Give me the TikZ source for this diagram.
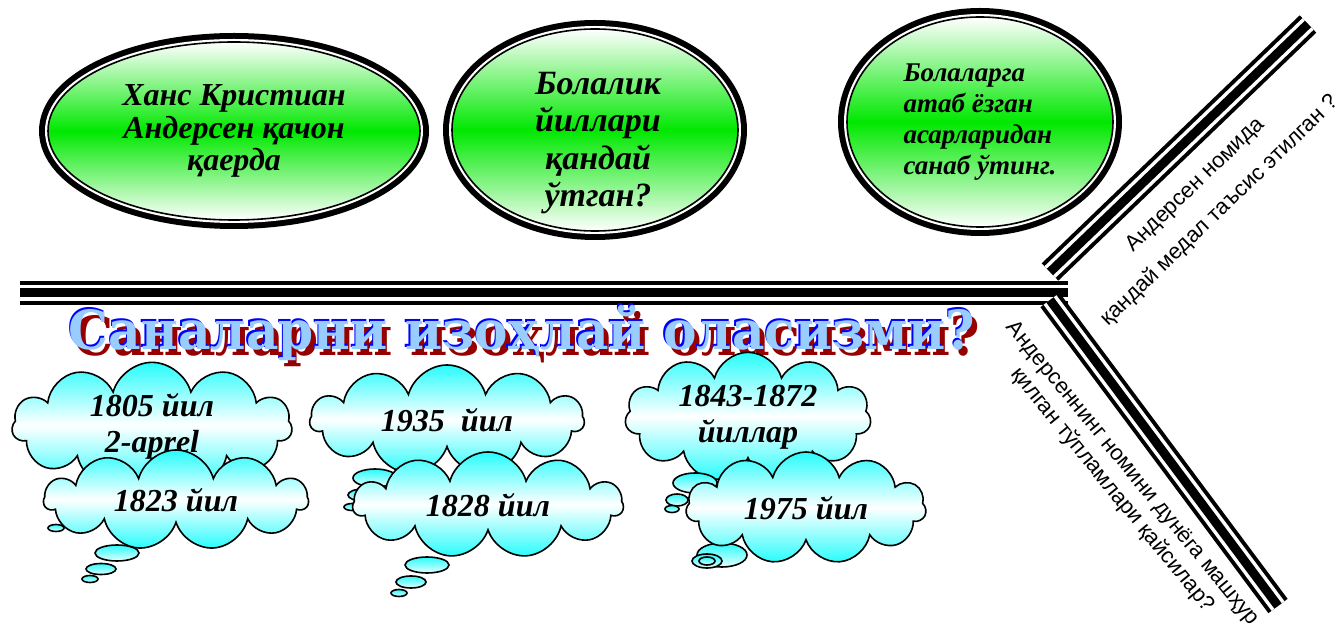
\documentclass[tikz,border=0pt]{standalone}
\usepackage{fontspec}
\setmainfont{Liberation Serif}
\setsansfont{Liberation Sans}
\newfontfamily\titlefont{DejaVu Serif}
\usetikzlibrary{shapes.geometric,shapes.symbols}

\definecolor{verde}{RGB}{0,232,0}
\definecolor{cian}{RGB}{40,252,252}
\definecolor{celeste}{RGB}{153,204,255}
\definecolor{rojo}{RGB}{150,0,0}

\tikzset{
  pregunta/.style={ellipse, draw=black, line width=0.8pt, inner sep=0pt,
    preaction={draw=black, line width=9pt},
    preaction={draw=white, line width=3pt},
    top color=white, bottom color=white, middle color=verde, align=center},
  nube/.style={cloud, cloud puffs=11, cloud ignores aspect, draw=black,
    line width=0.8pt, inner sep=0pt, top color=cian, bottom color=cian,
    middle color=white, align=center,
    font=\bfseries\itshape\fontsize{16}{18}\selectfont},
  burbuja/.style={draw=black, line width=0.8pt, top color=cian, bottom color=cian!12},
  raya/.style={line width=12pt, postaction={draw=white, line width=8pt},
    postaction={draw=black, line width=4.5pt}},
  rama/.style={font=\sffamily\fontsize{11}{13}\selectfont, align=center}
}

\begin{document}
\begin{tikzpicture}[x=0.5pt,y=-0.5pt]
    \useasboundingbox (0,0) rectangle (1340,630);
    % Preguntas
    \node[pregunta, minimum width=186pt, minimum height=89pt,
      font=\bfseries\itshape\fontsize{16}{16.2}\selectfont] (cuando) at (234,131)
      {Ханс Кристиан\\Андерсен қачон\\қаерда};
    \node[pregunta, minimum width=143pt, minimum height=101pt] (ninez) at (595,130) {};
    \node[align=center, font=\bfseries\itshape\fontsize{17}{18.7}\selectfont]
      (ninez-texto) at (598,143) {Болалик\\йиллари\\қандай\\ўтган?};
    \node[pregunta, minimum width=133pt, minimum height=105pt, align=left,
      font=\bfseries\itshape\fontsize{13.5}{15.5}\selectfont] (obras) at (980,122)
      {Болаларга\\атаб ёзган\\асарларидан\\санаб ўтинг.};
    % Espina
    \coordinate (cola) at (20,293);
    \coordinate (cabeza) at (1068,293);
    \coordinate (nudoA) at (1050,272);
    \coordinate (puntaA) at (1308,24);
    \coordinate (nudoB) at (1050,300);
    \coordinate (puntaB) at (1278,606);
    \draw[raya] (cola) -- (cabeza);
    \draw[raya] (nudoA) -- (puntaA);
    \draw[raya] (nudoB) -- (puntaB);
    \node[rama, rotate=44] (medal) at (1208,198)
      {Андерсен номида\\[5pt]қандай медал таъсис этилган ?};
    \node[rama, rotate=-50.7] (tuplam) at (1122,482)
      {Андерсеннинг номини дунёга машҳур\\қилган тўпламлари қайсилар?};
    % Titulo
    \foreach \dx/\dy/\col/\nom in {2.5/3/rojo/sombra, -0.8/-0.8/blue/borde, 0/0/celeste/frente}
      \node[text=\col, xshift=\dx pt, yshift=-\dy pt,
        font=\titlefont\bfseries\fontsize{27}{30}\selectfont] (titulo-\nom) at (522,333)
        {\scalebox{0.93}[1]{Саналарни изоҳлай оласизми?}};
    % Nubes
    \draw[burbuja] (56,528) ellipse [x radius=8, y radius=3.5];
    \node[nube, minimum width=140pt, minimum height=54pt] (n1805) at (152,426)
      {1805 йил\\2-aprel};
    \foreach \cx/\cy/\rx/\ry in {117/553/22/8, 101/569/15/5.5, 90/579/8/3.5}
      \draw[burbuja] (\cx,\cy) ellipse [x radius=\rx, y radius=\ry];
    \node[nube, minimum width=132pt, minimum height=50pt] (n1823) at (176,500) {1823 йил};
    \node[nube, minimum width=137pt, minimum height=55pt] (n1935) at (447,420) {1935\ \ йил};
    \foreach \cx/\cy/\rx/\ry in {375/478/22/9, 363/495/15/6, 352/507/8/3.5}
      \draw[burbuja] (\cx,\cy) ellipse [x radius=\rx, y radius=\ry];
    \foreach \cx/\cy/\rx/\ry in {427/565/22/8, 411/582/15/6, 399/593/8/3.5}
      \draw[burbuja] (\cx,\cy) ellipse [x radius=\rx, y radius=\ry];
    \node[nube, minimum width=135pt, minimum height=53pt] (n1828) at (488,505) {1828 йил};
    \node[nube, minimum width=123pt, minimum height=52pt] (n1843) at (748,417)
      {1843-1872\\йиллар};
    \foreach \cx/\cy/\rx/\ry in {695/483/22/10, 677/500/11/6, 672/509/7/3.5}
      \draw[burbuja] (\cx,\cy) ellipse [x radius=\rx, y radius=\ry];
    \draw[burbuja] (722,555) ellipse [x radius=25, y radius=12];
    \draw[burbuja] (707,561) ellipse [x radius=15, y radius=7];
    \draw[burbuja] (707,561) ellipse [x radius=8, y radius=4];
    \node[nube, minimum width=120pt, minimum height=56pt] (n1975) at (806,508) {1975 йил};
\end{tikzpicture}
\end{document}
